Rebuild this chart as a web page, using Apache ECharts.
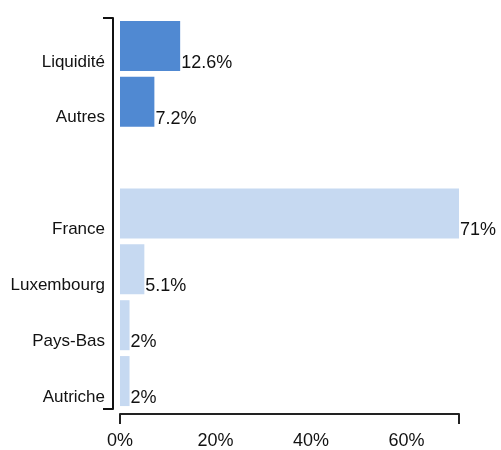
<!DOCTYPE html>
<html>
<head>
<meta charset="utf-8">
<script src="https://cdn.jsdelivr.net/npm/echarts@6/dist/echarts.min.js"></script>
<style>
  html, body { margin: 0; padding: 0; background: #fff; }
  #chart { width: 501px; height: 450px; }
</style>
</head>
<body>
<div id="chart"></div>
<script>
var cashCats = ['Liquidité', 'Autres'];
var cashVals = [12.6, 7.2];
var countryCats = ['France', 'Luxembourg', 'Pays-Bas', 'Autriche'];
var countryVals = [71, 5.1, 2, 2];
var xTickLabels = [0, 20, 40, 60];
var xMax = 71;

loadChart();

function loadChart() {
    var chart = echarts.init(document.getElementById('chart'));

    // blank category between the two groups
    var categories = cashCats.concat([' '], countryCats);
    var cashData = cashVals.concat(['-'], countryCats.map(function () { return '-'; }));
    var countryData = cashCats.map(function () { return '-'; }).concat(['-'], countryVals);

    var font = 'Liberation Sans';
    var valueLabel = {
        show: true,
        position: 'right',
        distance: 1,
        offset: [0, 17],
        color: '#111',
        fontSize: 18,
        fontFamily: font,
        formatter: function (p) { return p.value + '%'; }
    };

    var option = {
        animation: false,
        grid: {
            left: 120,
            right: 42,
            top: 18,
            bottom: 40
        },
        xAxis: {
            type: 'value',
            min: 0,
            max: xMax,
            interval: 20,
            offset: 5,
            splitLine: { show: false },
            axisLine: { show: true, onZero: false, lineStyle: { color: '#222', width: 2 } },
            axisTick: { show: true, customValues: [0, xMax], length: 10, lineStyle: { color: '#222', width: 2 } },
            axisLabel: {
                customValues: xTickLabels,
                formatter: '{value}%',
                margin: 18,
                color: '#111',
                fontSize: 18,
                fontFamily: font
            }
        },
        yAxis: {
            type: 'category',
            inverse: true,
            data: categories,
            offset: 7,
            axisLine: { show: true, onZero: false, lineStyle: { color: '#111', width: 2 } },
            axisTick: {
                show: true,
                interval: function (i) { return i === 0; },
                length: 10,
                lineStyle: { color: '#111', width: 2 }
            },
            axisLabel: {
                interval: 0,
                margin: 8,
                verticalAlign: 'top',
                lineHeight: 32,
                color: '#111',
                fontSize: 17,
                fontFamily: font
            }
        },
        series: [{
            name: 'Liquidité',
            type: 'bar',
            barWidth: 50,
            barGap: '-100%',
            itemStyle: { color: '#5089D2' },
            label: valueLabel,
            data: cashData
        }, {
            name: 'Pays',
            type: 'bar',
            barWidth: 50,
            itemStyle: { color: '#C6D9F1' },
            label: valueLabel,
            data: countryData
        }]
    };

    chart.setOption(option);
}
</script>
</body>
</html>
